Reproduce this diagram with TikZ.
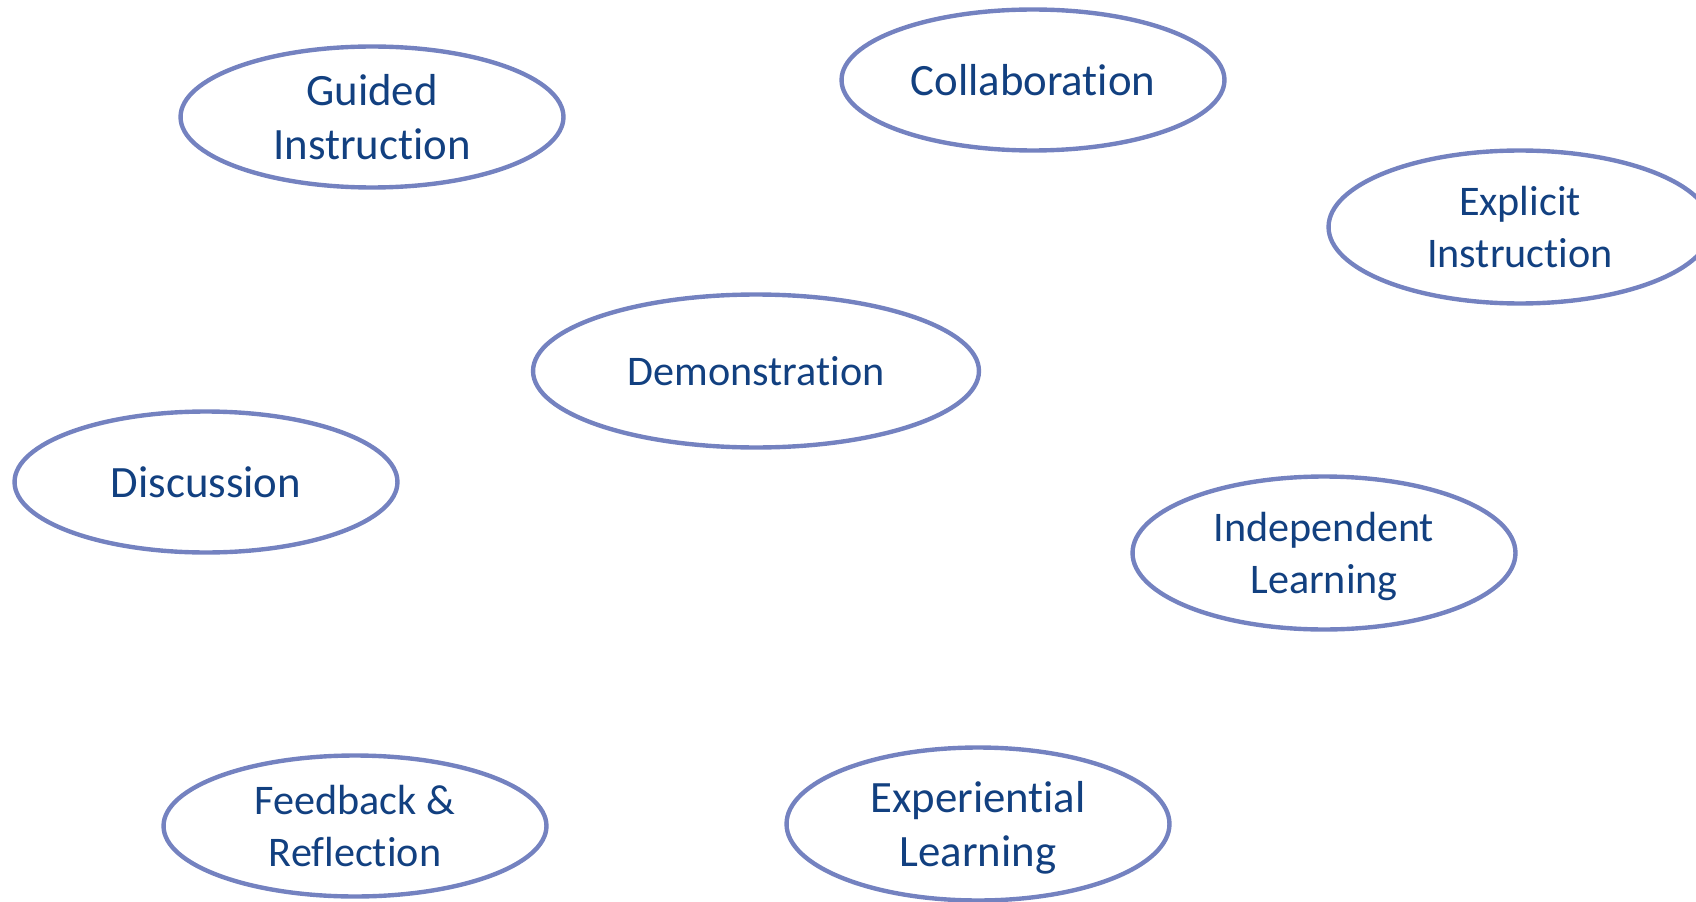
\documentclass[tikz,border=0pt]{standalone}
\usepackage{fontspec}
\setmainfont[Ligatures=NoCommon]{Carlito}
\usetikzlibrary{shapes.geometric}

\definecolor{ringblue}{RGB}{116,130,192}
\definecolor{textblue}{RGB}{18,64,128}

\begin{document}
\begin{tikzpicture}[x=0.02cm,y=-0.02cm,
                    every node/.style={draw=ringblue,
                      ellipse,
                      line width=2.5pt,
                      inner sep=0pt,
                      text depth=0pt,
                      text=textblue,
                      align=center},
                    bigtext/.style={font=\fontsize{25.5}{31}\selectfont},
                    smalltext/.style={font=\fontsize{24}{29.3}\selectfont},
                    flat/.style={minimum width=7.66cm, minimum height=2.82cm},
                    tall/.style={minimum width=7.66cm, minimum height=3.06cm}]
\useasboundingbox (0,0) rectangle (1696,902);
\node (guided) [flat,bigtext] at (372,117) {Guided\\Instruction};
\node (collab) [flat,bigtext] at (1033,80) {Collaboration};
\node (explicit) [tall,smalltext] at (1520,227) {Explicit\\Instruction};
\node (demo) [tall,smalltext,minimum width=8.92cm] at (756,371) {Demonstration};
\node (discuss) [flat,bigtext] at (206,482) {Discussion};
\node (indep) [tall,smalltext] at (1324,553) {Independent\\Learning};
\node (feedback) [flat,smalltext] at (355,826) {Feedback \&\\Reflection};
\node (exper) [tall,bigtext] at (978,824) {Experiential\\Learning};
\end{tikzpicture}
\end{document}
